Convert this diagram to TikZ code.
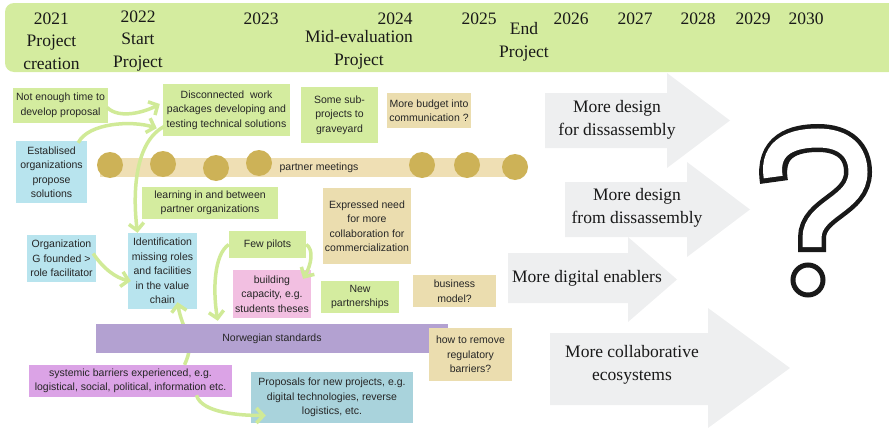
\documentclass[tikz,border=0pt]{standalone}
\usepackage{fontspec}
\setmainfont{Liberation Serif}
\setsansfont{Liberation Sans}
\usetikzlibrary{arrows.meta, calc}

\definecolor{leafgreen}{HTML}{D4EC9F}
\definecolor{linkgreen}{HTML}{D0EA97}
\definecolor{skyblue}{HTML}{B8E4EE}
\definecolor{sandtan}{HTML}{EBDDAF}
\definecolor{rosepink}{HTML}{F2BFE1}
\definecolor{lavender}{HTML}{B3A1D1}
\definecolor{orchid}{HTML}{DBA3E6}
\definecolor{tealblue}{HTML}{A9D3DC}
\definecolor{meetbar}{HTML}{EFDFB4}
\definecolor{meetgold}{HTML}{CDB257}
\definecolor{trendgrey}{HTML}{EEEFF0}

\begin{document}
\begin{tikzpicture}[x=1pt, y=-1pt,
    box/.style={align=center, inner sep=1pt, text=black!85, font=\sffamily\fontsize{10.5}{14.5}\selectfont},
    greenbox/.style={box, fill=leafgreen},
    bluebox/.style={box, fill=skyblue},
    tanbox/.style={box, fill=sandtan},
    meet/.style={circle, fill=meetgold, minimum size=26pt, inner sep=0pt},
    link/.style={draw=linkgreen, line width=3.5pt, -{Straight Barb[length=7pt,width=15pt]}},
    year/.style={align=center, text=black!90, font=\fontsize{17.5}{22.5}\selectfont},
    trend/.style={align=center, text=black!90, font=\fontsize{17.5}{23.5}\selectfont}]
    \useasboundingbox (0,0) rectangle (889,431);

    % timeline banner
    \fill[leafgreen, rounded corners=9pt] (5,3) rectangle (900,72);
    \node[year] (y2021) at (51.5,41) {2021\\Project\\creation};
    \node[year] (y2022) at (138,41) {2022\\Start\\Project};
    \node[year] (y2024) at (395,19) {2024};
    \node[year] (mideval) at (359,50) {Mid-evaluation\\Project};
    \node[year] (endproj) at (524,42) {End\\Project};
    \foreach \yr/\xx in {2023/261, 2025/479, 2026/571, 2027/635, 2028/698, 2029/753, 2030/806}
        \node[year] (y\yr) at (\xx,19) {\yr};

    % future trends
    \foreach \xa/\xb/\xc/\sa/\sb/\ha/\hb in {545/667/730/93/148/73/168, 565/687/750/182/237/162/257,
        508/628/677/253/303/237/322, 550/708/790/333/405/308/428}
        \fill[trendgrey] (\xa,\sa) -- (\xb,\sa) -- (\xb,\ha) -- (\xc,{(\ha+\hb)/2}) -- (\xb,\hb) -- (\xb,\sb) -- (\xa,\sb) -- cycle;
    \node[trend] (trend1) at (617,120) {More design\\for dissassembly};
    \node[trend] (trend2) at (637,208) {More design\\from dissassembly};
    \node[trend] (trend3) at (587,278) {More digital enablers};
    \node[trend] (trend4) at (632,365) {More collaborative\\ecosystems};

    % partner meetings
    \fill[meetbar] (100,158) rectangle (515,177);
    \foreach \i/\cx/\cy in {1/110/165, 2/163/164, 3/216/168, 4/259/163, 5/422/165, 6/467/165, 7/515/167}
        \node[meet] (meet\i) at (\cx,\cy) {};
    \node[box] (meetings) at (319,168) {partner meetings};

    % boxes
    \node[greenbox, minimum width=95, minimum height=35] (notime) at (60.5,105.5) {Not enough time to\\develop proposal};
    \node[greenbox, minimum width=127, minimum height=52] (disconn) at (226.5,110) {Disconnected\ \ work\\packages developing and\\testing technical solutions};
    \node[bluebox, minimum width=71, minimum height=62] (establ) at (51.5,172) {Establised\\organizations\\propose\\solutions};
    \node[greenbox, minimum width=77, minimum height=56] (subproj) at (339.5,115) {Some sub-\\projects to\\graveyard};
    \node[tanbox, minimum width=84, minimum height=35] (budget) at (429,110.5) {More budget into\\communication ?};
    \node[greenbox, minimum width=136, minimum height=32] (learning) at (210,203) {learning in and between\\partner organizations};
    \node[tanbox, minimum width=88, minimum height=76] (expressed) at (367,226) {Expressed need\\for more\\collaboration for\\commercialization};
    \node[bluebox, minimum width=69, minimum height=47] (orgG) at (61.5,258.5) {Organization\\G founded >\\role facilitator};
    \node[bluebox, minimum width=69, minimum height=76] (ident) at (162.5,271) {Identification\\missing roles\\and facilities\\in the value\\chain};
    \node[greenbox, minimum width=77, minimum height=27] (pilots) at (267.5,244.5) {Few pilots};
    \node[box, fill=rosepink, minimum width=78, minimum height=48] (capacity) at (272,294) {building\\capacity, e.g.\\students theses};
    \node[greenbox, minimum width=78, minimum height=32] (partners) at (360,297) {New\\partnerships};
    \node[tanbox, minimum width=83, minimum height=32] (business) at (454.5,291) {business\\model?};
    \node[box, fill=orchid, minimum width=203, minimum height=32] (systemic) at (130.5,381) {systemic barriers experienced, e.g.\\logistical, social, political, information etc.};
    \node[box, fill=tealblue, minimum width=162, minimum height=51] (proposals) at (332,397.5) {Proposals for new projects, e.g.\\digital technologies, reverse\\logistics, etc.};

    % question mark
    \draw[line width=28pt, black!90] (774,182) .. controls (768,145) and (795,138) .. (818,138) .. controls (845,138) and (858,152) .. (858,172) .. controls (858,205) and (812,208) .. (812,238) -- (812,252);
    \draw[line width=19pt, white, shorten <=5pt, shorten >=5pt] (774,182) .. controls (768,145) and (795,138) .. (818,138) .. controls (845,138) and (858,152) .. (858,172) .. controls (858,205) and (812,208) .. (812,238) -- (812,252);
    \draw[line width=5pt, black!90] (808,280) circle[radius=15];

    % connectors
    \draw[link] ($(notime.east)+(-1,2)$) .. controls +(12,12) and +(-15,8) .. ($(disconn.west)+(-3,-6)$);
    \draw[link] ($(establ.north east)+(-9,2)$) .. controls +(10,-20) and +(-25,-8) .. ($(disconn.south west)+(-6,-8)$);
    \draw[link] ($(disconn.south west)+(2,-10)$) .. controls +(-30,15) and +(-5,-40) .. ($(ident.north)+(-25,0)$);
    \draw[link] ($(orgG.east)+(-3,-5)$) .. controls +(10,15) and +(-15,-3) .. ($(ident.west)+(3,10)$);
    \draw[link] ($(systemic.north)+(54,0)$) .. controls +(12,-25) and +(5,30) .. ($(ident.south)+(15,-7)$);
    \draw[link] (pilots.east) .. controls +(8,5) and +(8,-14) .. ($(capacity.north east)+(-8,9)$);
    \draw[link] ($(systemic.south)+(66,-2)$) .. controls +(5,18) and +(-25,0) .. ($(proposals.west)+(15,18)$);

    \node[box, fill=lavender, minimum width=352, minimum height=29] (norway) at (272,338.5) {Norwegian standards};
    \draw[link] (pilots.west) .. controls +(-15,10) and +(-5,-30) .. ($(norway.north west)+(122,-3)$);
    \node[tanbox, minimum width=83, minimum height=53] (regul) at (470.5,354.5) {how to remove\\regulatory\\barriers?};
\end{tikzpicture}
\end{document}
